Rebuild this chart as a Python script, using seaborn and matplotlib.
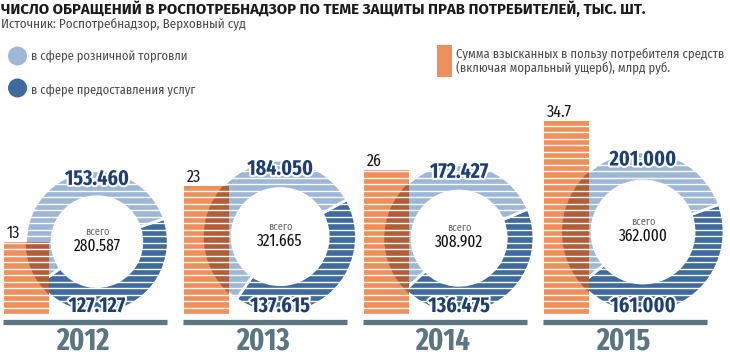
import numpy as np
import matplotlib
matplotlib.use('Agg')
import matplotlib.pyplot as plt
import matplotlib.patheffects as pe
from matplotlib.patches import Wedge, Rectangle, Circle
from matplotlib.collections import LineCollection
import seaborn as sns

# data (тыс. обращений / млрд руб.)
years = ['2012', '2013', '2014', '2015']
retail = [153.460, 184.050, 172.427, 201.000]
services = [127.127, 137.615, 136.475, 161.000]
recovered = [13, 23, 26, 34.7]
totals = [a + b for a, b in zip(retail, services)]

# layout (pixels)
W, H = 730, 356
PX_PER_UNIT = 5.55
BASE = 42
STEP = 180
FIRST_LEFT = 4
BAR_W = 45
split_angles = [19, 29, 23, 20]

LIGHT = '#9cb7d7'
DARK = '#3f6a9e'
ORANGE = '#ef8f5c'
NAVY = '#1d3f72'
SLATE = '#5b7582'
GREY = '#4a4a4a'

sns.set_theme(style='white')
COND = ['Fira Sans Condensed', 'Roboto Condensed', 'DejaVu Sans']
XCOND = ['Fira Sans Extra Condensed', 'Fira Sans Condensed', 'DejaVu Sans']
WIDE = ['Fira Sans', 'Roboto', 'DejaVu Sans']
plt.rcParams['font.family'] = COND


def stripes(ax, patch, step=6.5, lw=1.0, transform=None):
    ys = np.arange(BASE - 10 * step, H, step)
    lc = LineCollection([[(0, y), (W, y)] for y in ys], colors='white', linewidths=lw,
                        zorder=patch.get_zorder() + 0.1)
    if transform is not None:
        lc.set_transform(transform)
    ax.add_collection(lc, autolim=False)
    lc.set_clip_path(patch)


fig = plt.figure(figsize=(W / 100, H / 100), dpi=100)
ax = fig.add_axes([0, 0, 1, 1])

lefts = [FIRST_LEFT + STEP * i for i in range(len(years))]
K = 81 / np.sqrt(max(totals))
geo = []
for i, yr in enumerate(years):
    r = K * np.sqrt(totals[i])
    rin = 0.63 * r
    cx = lefts[i] + BAR_W + 3 + rin
    cy = BASE + 1 + r
    geo.append((cx, cy, r))
    wedges, _ = ax.pie([services[i], retail[i]], colors=[DARK, LIGHT], radius=r,
                       center=(cx, cy), startangle=split_angles[i], counterclock=False,
                       wedgeprops=dict(width=r - rin, edgecolor='white', linewidth=2),
                       frame=True)
    for w in wedges:
        stripes(ax, w)
    ax.text(cx, cy + 7, 'всего', ha='center', va='baseline', fontsize=7.5, color='#666666')
    ax.text(cx, cy - 9, f'{totals[i]:.3f}', ha='center', va='baseline', fontsize=12,
            color='#111111', family=XCOND)
    for val, yy in [(retail[i], cy + r - 14.5), (services[i], cy - r + 1)]:
        ax.text(cx, yy, f'{val:.3f}', ha='center', va='baseline', fontsize=15.5,
                fontweight='bold', color=NAVY, zorder=6, family=XCOND,
                path_effects=[pe.withStroke(linewidth=3, foreground='white')])
    ax.hlines(H - 321.5, lefts[i] - 1, lefts[i] + 163, color=SLATE, linewidth=3.8)
    ax.text(lefts[i] + 79, 0, yr, ha='center', va='bottom', fontsize=22,
            fontweight='bold', color=SLATE, family=XCOND)

# title and legend
ax.text(1, H - 14, 'ЧИСЛО ОБРАЩЕНИЙ В РОСПОТРЕБНАДЗОР ПО ТЕМЕ ЗАЩИТЫ ПРАВ ПОТРЕБИТЕЛЕЙ, ТЫС. ШТ.',
        ha='left', va='baseline', fontsize=10.8, fontweight='bold', color='#1a1a1a',
        family=WIDE)
ax.text(1, H - 27, 'Источник: Роспотребнадзор, Верховный суд', ha='left', va='baseline',
        fontsize=9.4, color=GREY)
ax.add_patch(Circle((17.5, H - 56), 9.5, color=LIGHT, lw=0))
ax.text(31, H - 60, 'в сфере розничной торговли', ha='left', va='baseline', fontsize=9,
        color=GREY)
ax.add_patch(Circle((17.5, H - 88), 9.5, color=DARK, lw=0))
ax.text(31, H - 94.5, 'в сфере предоставления услуг', ha='left', va='baseline', fontsize=9,
        color=GREY)
ax.add_patch(Rectangle((437, H - 77), 15, 32, color=ORANGE, lw=0))
ax.text(456, H - 57.3, 'Сумма взысканных в пользу потребителя средств', ha='left',
        va='baseline', fontsize=9.1, color=GREY)
ax.text(456, H - 72.7, '(включая моральный ущерб), млрд руб.', ha='left',
        va='baseline', fontsize=9.1, color=GREY)

ax.set_xlim(0, W)
ax.set_ylim(0, H)
ax.set_aspect('auto')
ax.set_axis_off()

# bars on their own value axis
ax2 = fig.add_axes([0, 0, 1, 1])
ax2.patch.set_alpha(0)
centers = [l + BAR_W / 2 for l in lefts]
sns.barplot(x=centers, y=recovered, native_scale=True, width=BAR_W / STEP, color=ORANGE,
            saturation=1, errorbar=None, linewidth=0, ax=ax2)
ax2.set_xlim(0, W)
ax2.set_ylim(-BASE / PX_PER_UNIT, (H - BASE) / PX_PER_UNIT)
ax2.set_axis_off()
bars = list(ax2.patches)
for i, bar in enumerate(bars):
    cx, cy, r = geo[i]
    ring = Wedge((cx, cy), r, 0, 360, width=0.37 * r, transform=ax.transData,
                 color='#5a1a0c', alpha=0.42, lw=0)
    ax2.add_patch(ring)
    ring.set_clip_path(bar)
    stripes(ax2, bar, transform=ax.transData)
    ax2.text(lefts[i] + 3, recovered[i] + 4 / PX_PER_UNIT, f'{recovered[i]:g}', ha='left',
             va='baseline', fontsize=12.5, color='#1a1a1a', family=XCOND)

fig.savefig('out.png', dpi=100)
